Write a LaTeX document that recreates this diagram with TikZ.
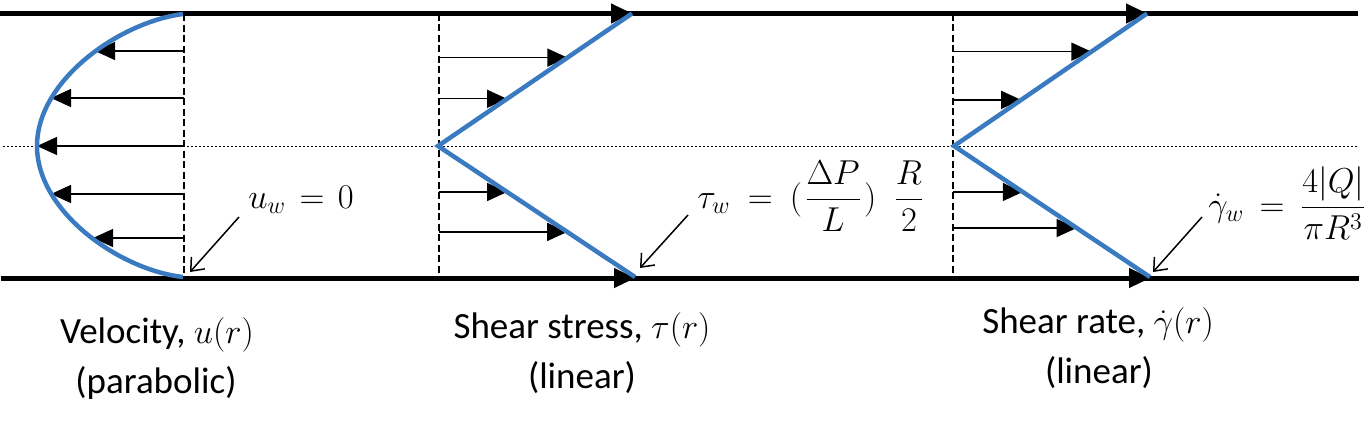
\documentclass[tikz,border=0pt]{standalone}
\usepackage{amsmath}
\usepackage{fontspec}
\setmainfont{Carlito}
\usetikzlibrary{arrows.meta,calc}
\definecolor{profblue}{RGB}{58,122,192}
\tikzset{
  wall/.style={line width=2.25pt,black},
  prof/.style={line width=2.25pt,profblue},
  guide/.style={line width=0.7pt,dash pattern=on 3.5pt off 1.75pt},
  axisline/.style={line width=0.5pt,dash pattern=on 1pt off 1pt},
  vec/.style={line width=0.65pt,-{Triangle[length=10pt,width=9pt]}},
  wallvec/.style={line width=0.5pt,-{Triangle[length=10.5pt,width=10pt]}},
  note/.style={line width=0.75pt,-{Straight Barb[length=5.5pt,width=9pt]}},
  lbl/.style={font=\fontsize{18.5}{25}\selectfont,inner sep=0pt,anchor=base},
  eq/.style={font=\fontsize{17.28}{25}\selectfont,inner sep=0pt,anchor=base west},
}
\begin{document}
\begin{tikzpicture}[x=0.5pt,y=-0.5pt]
\useasboundingbox (0,0) rectangle (1371,434);
% centre line
\coordinate (CL) at (3,146); \coordinate (CR) at (1359,146);
\draw[axisline] (CL) -- (CR);
% guides
\coordinate (D1t) at (184,14); \coordinate (D1b) at (184,277);
\coordinate (D2t) at (439,13.5); \coordinate (D2b) at (439,278);
\coordinate (D3t) at (953,13.5); \coordinate (D3b) at (953,278);
\draw[guide] (D1t) -- (D1b);
\draw[guide] (D2t) -- (D2b);
\draw[guide] (D3t) -- (D3b);
% walls
\coordinate (TL) at (0,13.5); \coordinate (TR) at (1358,13.5);
\coordinate (BL) at (1,278.5); \coordinate (BR) at (1359,278.5);
\draw[wall] (TL) -- (TR);
\draw[wall] (BL) -- (BR);
% panel 1: velocity
\coordinate (P1t) at (183,14); \coordinate (P1v) at (37,146); \coordinate (P1b) at (183,277);
\foreach \n/\px/\py in {a/95/51, b/51/98, c/37/146, d/51/194, e/93/238}{
  \coordinate (u\n) at (\px,\py);
  \draw[vec] (u\n -| D1t) -- (u\n);
}
\draw[prof] (P1t) .. controls (120,22) and (37,80) .. (P1v) .. controls (37,212) and (120,270) .. (P1b);
% panel 2: shear stress
\coordinate (V2) at (438,146); \coordinate (T2) at (632,13.5); \coordinate (B2) at (635,277);
\coordinate (s1) at ($(V2)!0.667!(T2)$);
\coordinate (s2) at ($(V2)!0.356!(T2)$);
\coordinate (s3) at ($(V2)!0.351!(B2)$);
\coordinate (s4) at ($(V2)!0.656!(B2)$);
\foreach \n in {s1,s2,s3,s4}{\draw[vec] (\n -| D2t) -- (\n);}
\draw[wallvec] (D2t) -- (T2);
\draw[wallvec] (D2b) -- (D2b -| B2);
\draw[prof] (T2) -- (V2) -- (B2);
% panel 3: shear rate
\coordinate (V3) at (954,146); \coordinate (T3) at (1147,13.5); \coordinate (B3) at (1150,277);
\coordinate (g1) at ($(V3)!0.712!(T3)$);
\coordinate (g2) at ($(V3)!0.348!(T3)$);
\coordinate (g3) at ($(V3)!0.351!(B3)$);
\coordinate (g4) at ($(V3)!0.626!(B3)$);
\foreach \n in {g1,g2,g3,g4}{\draw[vec] (\n -| D3t) -- (\n);}
\draw[wallvec] (D3t) -- (T3);
\draw[wallvec] (D3b) -- (D3b -| B3);
\draw[prof] (T3) -- (V3) -- (B3);
% annotations
\node[eq] (f1) at (248,208) {$u_w\mkern2mu = \mkern2mu 0$};
\coordinate (n1s) at (239,217); \coordinate (n1e) at (190,272);
\draw[note] (n1s) -- (n1e);
\node[eq] (f2) at (697,208) {$\tau_w\mkern4mu = \mkern4mu(\mkern1mu\dfrac{\Delta P}{L}\mkern1mu)\mkern9mu\dfrac{R}{2}$};
\coordinate (n2s) at (688,215); \coordinate (n2e) at (640,268);
\draw[note] (n2s) -- (n2e);
\node[eq,anchor=base east] (f3) at (1367,216) {$\dot{\gamma}_w\mkern3mu = \mkern3mu\dfrac{4|Q|}{\pi R^3}$};
\coordinate (n3s) at (1202,217); \coordinate (n3e) at (1153,272);
\draw[note] (n3s) -- (n3e);
% labels
\node[lbl] (l1a) at (157,343) {Velocity, $u(r)$};
\node[lbl] (l1b) at (156,393) {(parabolic)};
\node[lbl] (l2a) at (582,338) {Shear stress, $\tau(r)$};
\node[lbl] (l2b) at (582,388) {(linear)};
\node[lbl] (l3a) at (1098,333) {Shear rate, $\dot{\gamma}(r)$};
\node[lbl] (l3b) at (1099,383) {(linear)};
\end{tikzpicture}
\end{document}
